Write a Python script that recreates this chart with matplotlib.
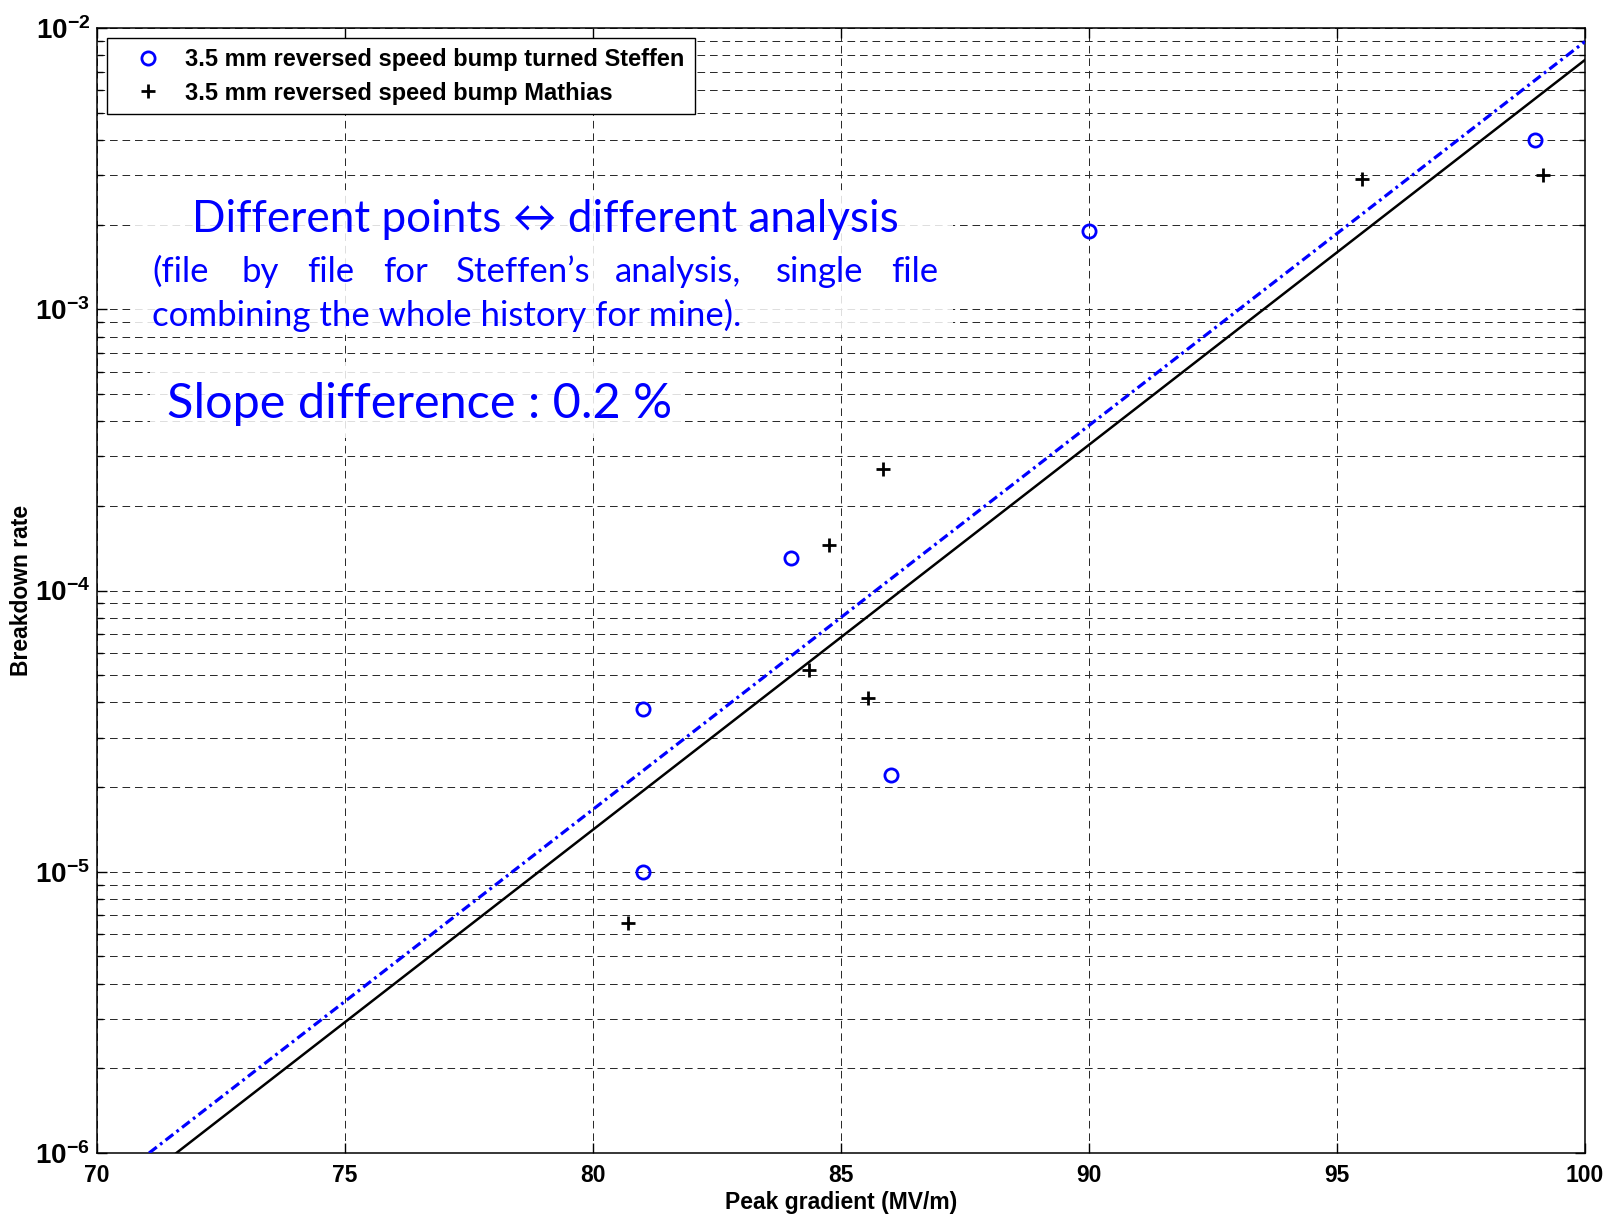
import matplotlib
matplotlib.use("Agg")
import matplotlib.pyplot as plt
from matplotlib.patches import Rectangle

# data
steffen_x = [99.0, 90.0, 84.0, 81.0, 86.0, 81.0]
steffen_y = [4.0e-3, 1.9e-3, 1.3e-4, 3.8e-5, 2.2e-5, 1.0e-5]
mathias_x = [95.5, 99.15, 85.85, 84.75, 84.35, 85.55, 80.7]
mathias_y = [2.9e-3, 3.0e-3, 2.7e-4, 1.45e-4, 5.2e-5, 4.15e-5, 6.6e-6]

# fitted lines (end points)
fit_black_x = [71.6, 100.0]
fit_black_y = [1.0e-6, 7.7e-3]
fit_blue_x = [71.05, 100.0]
fit_blue_y = [1.0e-6, 8.95e-3]

xticks = [70, 75, 80, 85, 90, 95, 100]

plt.rcParams['font.family'] = ['Liberation Sans']
plt.rcParams['font.weight'] = 'bold'
plt.rcParams['mathtext.fontset'] = 'custom'
plt.rcParams['mathtext.rm'] = 'Liberation Sans:bold'
plt.rcParams['mathtext.bf'] = 'Liberation Sans:bold'
plt.rcParams['mathtext.it'] = 'Liberation Sans:bold'
plt.rcParams['axes.unicode_minus'] = False
plt.rcParams['lines.scale_dashes'] = False

W, H = 1615, 1216
fig = plt.figure(figsize=(W / 100, H / 100), dpi=100)
ax = fig.add_axes([97 / W, (H - 1153) / H, (1585 - 97) / W, (1153 - 28) / H])

ax.set_yscale('log')
ax.set_xlim(70, 100)
ax.set_ylim(1e-6, 1e-2)
ax.set_xticks(xticks)

grid_style = dict(color='0.15', linewidth=0.7, linestyle=(0, (5.5, 3.5)))
ax.grid(True, which='major', axis='both', **grid_style)
ax.grid(True, which='minor', axis='y', **grid_style)

ax.plot(fit_blue_x, fit_blue_y, color='blue', linewidth=2.3,
        linestyle=(0, (7, 3, 2, 3)), zorder=3)
ax.plot(fit_black_x, fit_black_y, color='black', linewidth=1.8, zorder=3)

ax.plot(steffen_x, steffen_y, 'o', markerfacecolor='none', markeredgecolor='blue',
        markersize=9.5, markeredgewidth=2.0, zorder=4,
        label='3.5 mm reversed speed bump turned Steffen')
ax.plot(mathias_x, mathias_y, '+', color='black', markersize=10,
        markeredgewidth=2.0, zorder=4, label='3.5 mm reversed speed bump Mathias')

ax.tick_params(which='both', direction='in', top=True, right=True, width=1)
ax.tick_params(which='major', length=7, pad=8)
ax.tick_params(axis='x', which='major', labelsize=16.5)
ax.tick_params(axis='y', which='major', labelsize=20, pad=5)
ax.tick_params(which='minor', length=4)
for s in ax.spines.values():
    s.set_linewidth(1.1)

ax.set_xlabel('Peak gradient (MV/m)', fontsize=16.5, fontweight='bold', labelpad=3)
ax.set_ylabel('Breakdown rate', fontsize=16.5, fontweight='bold', labelpad=1)

leg = ax.legend(loc='upper left', bbox_to_anchor=((107 - 97) / 1488, (1153 - 38) / 1125),
                borderaxespad=0, fontsize=17, fancybox=False, framealpha=1,
                edgecolor='black', handlelength=2.6, handletextpad=0.3,
                borderpad=0.42, labelspacing=0.45)
leg.get_frame().set_linewidth(1.0)


def fx(px):
    return px / W


def fy(py):
    return 1 - py / H


# semi-transparent white boxes behind the annotation
fig.add_artist(Rectangle((fx(133), fy(335)), (953 - 133) / W, (335 - 190) / H,
                         facecolor='white', edgecolor='none', alpha=0.85, zorder=5))
fig.add_artist(Rectangle((fx(150), fy(438)), (680 - 150) / W, (438 - 362) / H,
                         facecolor='white', edgecolor='none', alpha=0.85, zorder=5))

note_font = ['Lato', 'DejaVu Sans']
fig.text(fx(545), fy(220), 'Different points \u2194 different analysis', color='blue',
         fontsize=31.7, family=note_font, fontweight='normal', ha='center', va='center', zorder=6)

line2 = ['(file', 'by', 'file', 'for', 'Steffen\u2019s', 'analysis,', 'single', 'file']
line2_x = [152, 241, 307, 383, 456, 615, 776, 891]
for w, x in zip(line2, line2_x):
    fig.text(fx(x), fy(272), w, color='blue', fontsize=25, family=note_font,
             fontweight='normal', ha='left', va='center', zorder=6)
fig.text(fx(152), fy(315), 'combining the whole history for mine).', color='blue',
         fontsize=25, family=note_font, fontweight='normal', ha='left', va='center', zorder=6)
fig.text(fx(167), fy(404), 'Slope difference : 0.2 %', color='blue',
         fontsize=35, family=note_font, fontweight='normal', ha='left', va='center', zorder=6)

fig.savefig('out.png', dpi=100)
